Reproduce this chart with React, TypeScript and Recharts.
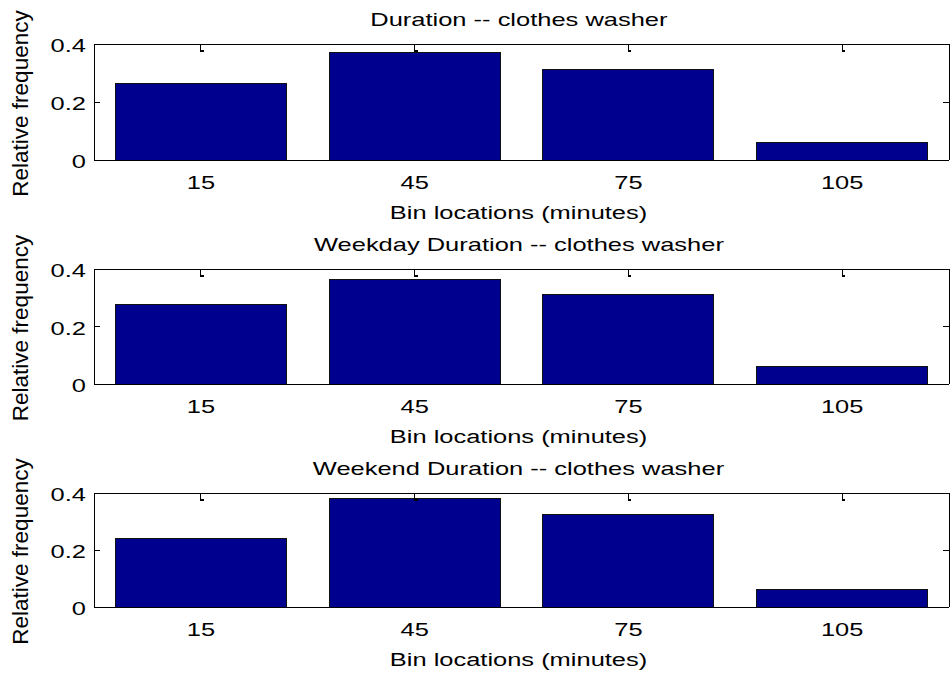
import { ComposedChart, Bar, Line, XAxis, YAxis } from "recharts";

// bin centres (minutes) and relative frequencies
const bins = ["15", "45", "75", "105"];
const durationAll = [0.264, 0.37, 0.313, 0.061];
const durationWeekday = [0.278, 0.364, 0.31, 0.061];
const durationWeekend = [0.239, 0.382, 0.326, 0.063];
const yTicks = [0, 0.2, 0.4];
const titles = [
  "Duration -- clothes washer",
  "Weekday Duration -- clothes washer",
  "Weekend Duration -- clothes washer",
];

const FONT = '"Liberation Sans", Arial, Helvetica, sans-serif';
const STRETCH = 1.34;
const BAR_FILL = "#00008f";

const panels = [
  { title: titles[0], values: durationAll, top: 0, plotH: 116 },
  { title: titles[1], values: durationWeekday, top: 225, plotH: 115 },
  { title: titles[2], values: durationWeekend, top: 449, plotH: 114 },
];

// bottom tick label, plus the inward tick mark on the top edge of the box
function makeXTick(plotH: number) {
  return function XTick(props: any) {
    const { x, y, payload } = props;
    const top = y - plotH;
    return (
      <g>
        <path d={`M${x},${top} L${x},${top + 7} L${x + 3},${top + 7}`} stroke="#000" strokeWidth={1.2} fill="none" />
        <text
          transform={`translate(${x},${y + 29}) scale(${STRETCH},1)`}
          textAnchor="middle"
          fontSize={19}
          fontFamily={FONT}
          fill="#000"
        >
          {payload.value}
        </text>
      </g>
    );
  };
}

function YTick(props: any) {
  const { x, y, payload } = props;
  return (
    <text
      transform={`translate(${x},${y + 8}) scale(${STRETCH},1)`}
      textAnchor="end"
      fontSize={19}
      fontFamily={FONT}
      fill="#000"
    >
      {payload.value}
    </text>
  );
}

// tick marks only, no labels
const NoLabel = () => <g />;

function BinLabel(props: any) {
  const vb = props.viewBox;
  return (
    <text
      transform={`translate(${vb.x + vb.width / 2 - 3},${vb.y + 59}) scale(${STRETCH},1)`}
      textAnchor="middle"
      fontSize={19}
      fontFamily={FONT}
      fill="#000"
    >
      Bin locations (minutes)
    </text>
  );
}

function FreqLabel(props: any) {
  const vb = props.viewBox;
  return (
    <text
      transform={`translate(28,${vb.y + vb.height / 2 + 1.5}) rotate(-90)`}
      textAnchor="middle"
      fontSize={22.5}
      fontFamily={FONT}
      fill="#000"
    >
      Relative frequency
    </text>
  );
}

function Panel({ title, values, top, plotH }: { title: string; values: number[]; top: number; plotH: number }) {
  const data = bins.map((bin, i) => ({ bin, value: values[i] }));
  const height = 44 + plotH + 65;
  return (
    <div style={{ position: "absolute", left: 0, top, width: 951, height, shapeRendering: "crispEdges" }}>
      <div
        style={{
          position: "absolute",
          left: 0,
          top: 9,
          width: 1037,
          textAlign: "center",
          fontFamily: FONT,
          fontSize: 19,
          lineHeight: "22px",
          color: "#000",
        }}
      >
        <span style={{ display: "inline-block", transform: `scaleX(${STRETCH})` }}>{title}</span>
      </div>
      <ComposedChart
        width={951}
        height={height}
        data={data}
        margin={{ top: 44, right: 2, bottom: 35, left: 0 }}
        barCategoryGap="10%"
      >
        <XAxis
          dataKey="bin"
          height={30}
          interval={0}
          tickSize={0}
          tickMargin={0}
          tickLine={false}
          axisLine={{ stroke: "#000" }}
          tick={makeXTick(plotH)}
          label={{ content: BinLabel }}
        />
        <XAxis
          xAxisId="top"
          dataKey="bin"
          orientation="top"
          mirror
          interval={0}
          tick={NoLabel}
          tickLine={false}
          axisLine={{ stroke: "#000" }}
        />
        <YAxis
          type="number"
          domain={[0, 0.4]}
          ticks={yTicks}
          width={94}
          interval={0}
          tickSize={0}
          tickMargin={8}
          tickLine={false}
          axisLine={{ stroke: "#000" }}
          tick={YTick}
          label={{ content: FreqLabel }}
        />
        <YAxis
          yAxisId="leftTicks"
          type="number"
          domain={[0, 0.4]}
          ticks={yTicks}
          mirror
          width={10}
          interval={0}
          tick={NoLabel}
          tickSize={6}
          tickLine={{ stroke: "#000" }}
          axisLine={false}
        />
        <YAxis
          yAxisId="right"
          orientation="right"
          type="number"
          domain={[0, 0.4]}
          ticks={yTicks}
          mirror
          width={10}
          interval={0}
          tick={NoLabel}
          tickSize={6}
          tickLine={{ stroke: "#000" }}
          axisLine={{ stroke: "#000" }}
        />
        <Bar dataKey="value" fill={BAR_FILL} stroke="#111" strokeWidth={1} isAnimationActive={false} />
        {/* invisible series so the mirrored tick-mark axes get their scales */}
        <Line
          xAxisId="top"
          yAxisId="right"
          dataKey="value"
          stroke="none"
          dot={false}
          activeDot={false}
          legendType="none"
          isAnimationActive={false}
        />
        <Line
          yAxisId="leftTicks"
          dataKey="value"
          stroke="none"
          dot={false}
          activeDot={false}
          legendType="none"
          isAnimationActive={false}
        />
      </ComposedChart>
    </div>
  );
}

export default function App() {
  return (
    <div style={{ position: "absolute", left: 0, top: 0, width: 951, height: 675, background: "#fff" }}>
      {panels.map((p) => (
        <Panel key={p.title} {...p} />
      ))}
    </div>
  );
}
